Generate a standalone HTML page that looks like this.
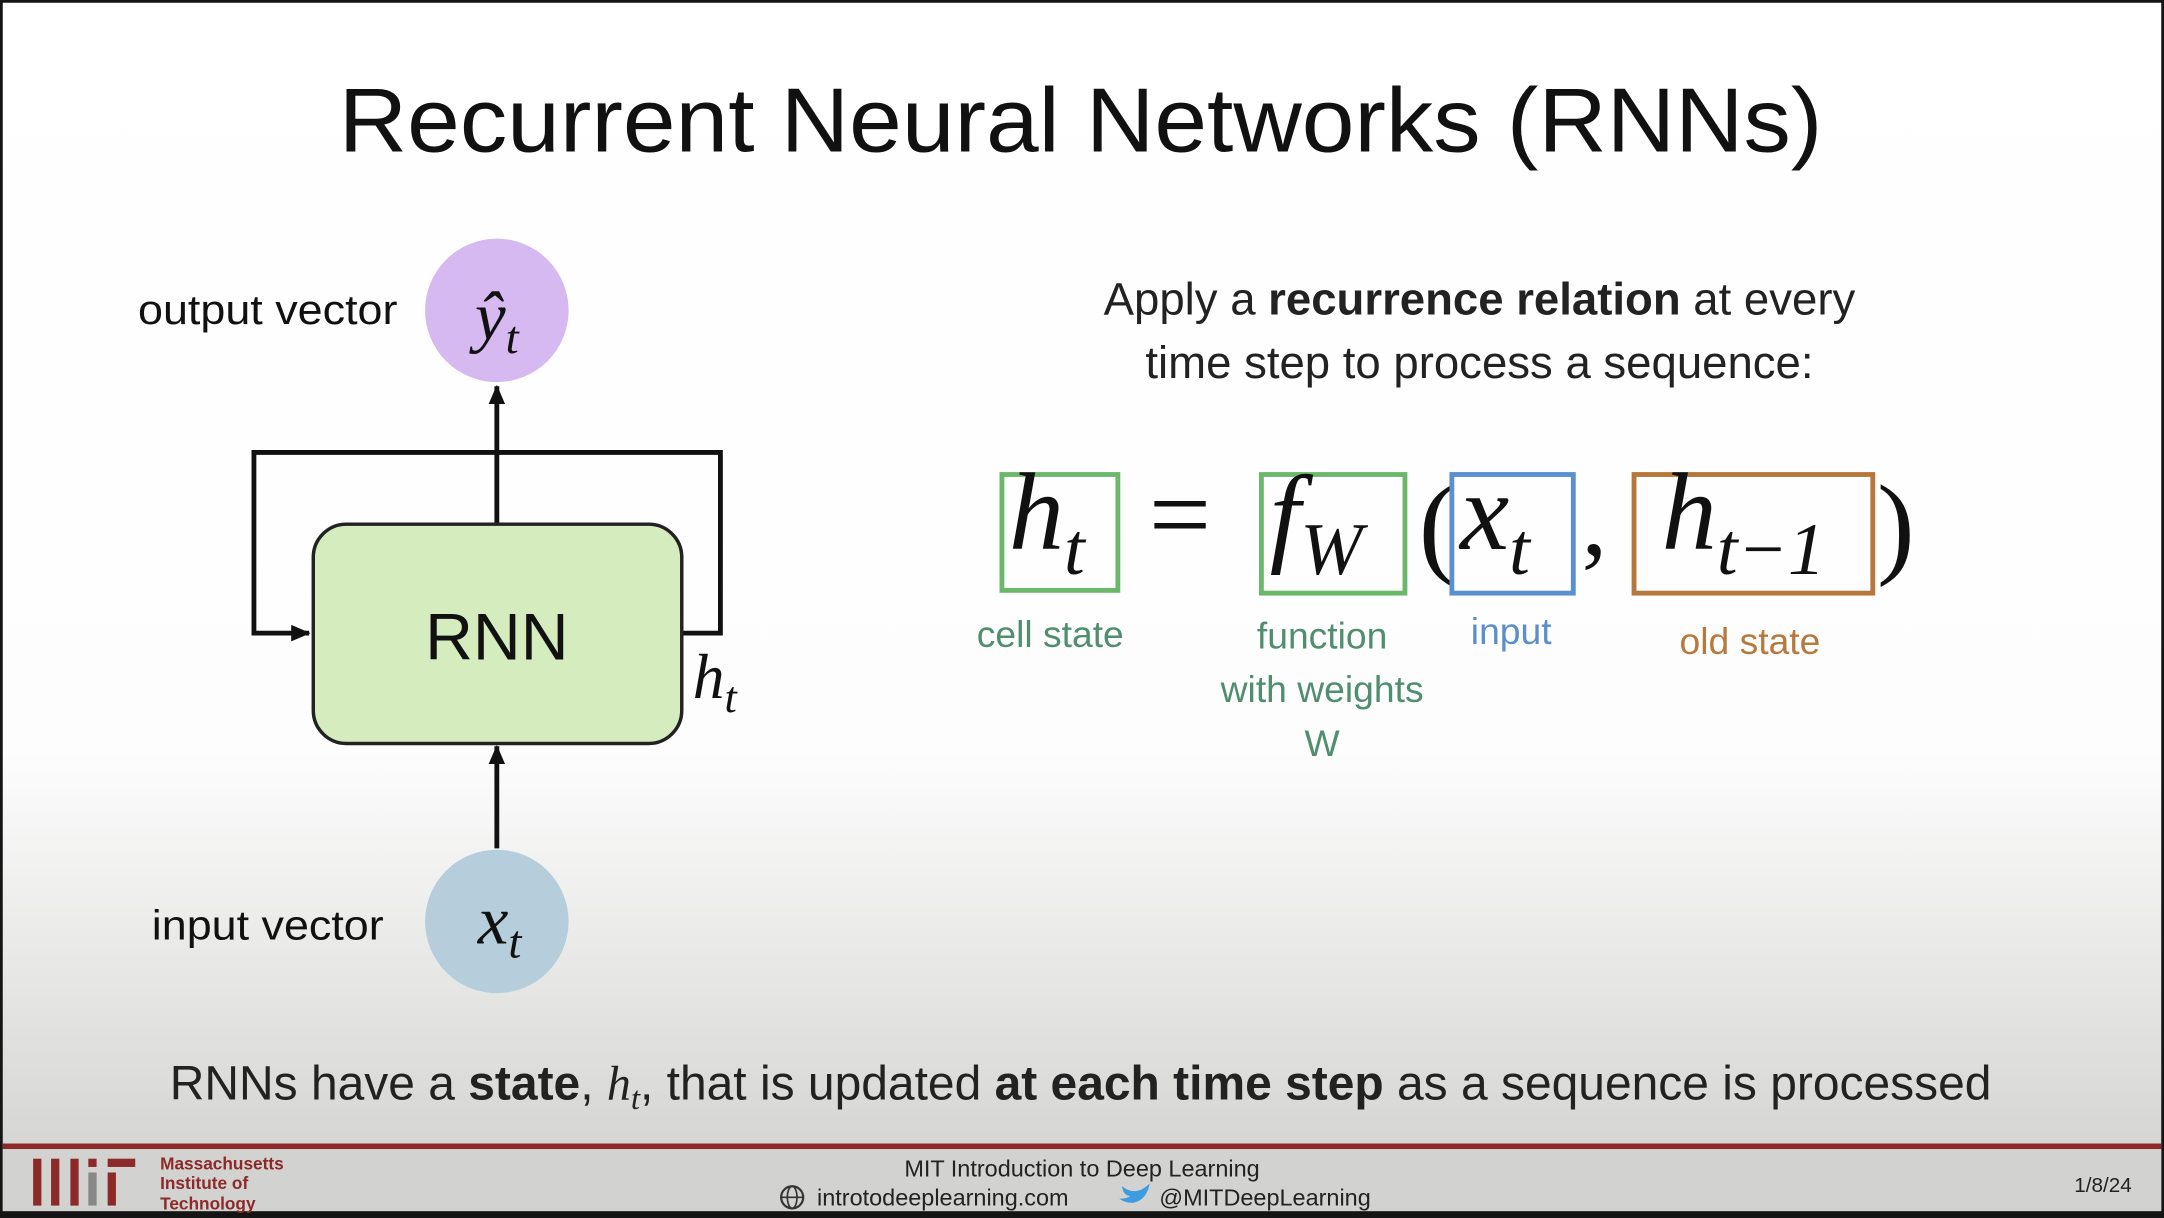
<!DOCTYPE html>
<html><head><meta charset="utf-8"><style>
html,body{margin:0;padding:0;background:#111;}
svg{display:block}
</style></head><body>
<svg width="2164" height="1218" viewBox="0 0 1568 883" preserveAspectRatio="none" xmlns="http://www.w3.org/2000/svg" font-family="'Liberation Sans', sans-serif">
<defs>
<linearGradient id="bg" x1="0" y1="0" x2="0" y2="1">
<stop offset="0" stop-color="#ffffff"/>
<stop offset="0.62" stop-color="#fdfdfd"/>
<stop offset="1" stop-color="#cfcfcd"/>
</linearGradient>
<marker id="ar" markerWidth="14" markerHeight="12" refX="13" refY="6" orient="auto" markerUnits="userSpaceOnUse">
<path d="M0,0 L14,6 L0,12 z" fill="#111"/>
</marker>
</defs>
<rect x="0" y="0" width="1568" height="883" fill="#151515"/>
<rect x="2" y="2" width="1564" height="876" fill="url(#bg)"/>
<rect x="2" y="833" width="1564" height="45" fill="#d2d2d0"/>
<rect x="2" y="829" width="1564" height="4" fill="#8c2a2a"/>

<text x="783" y="110" font-size="66" text-anchor="middle" textLength="1075" lengthAdjust="spacingAndGlyphs" fill="#111">Recurrent Neural Networks (RNNs)</text>

<circle cx="360" cy="225" r="52" fill="#d5b9f0"/>
<text x="360" y="246" font-family="'Liberation Serif',serif" font-style="italic" font-size="50" text-anchor="middle" fill="#111">ŷ<tspan font-size="34" dy="10">t</tspan></text>
<circle cx="360" cy="668" r="52" fill="#b6cedb"/>
<text x="362" y="684" font-family="'Liberation Serif',serif" font-style="italic" font-size="50" text-anchor="middle" fill="#111">x<tspan font-size="34" dy="10">t</tspan></text>
<text x="100" y="235" font-size="30" textLength="188" lengthAdjust="spacingAndGlyphs" fill="#111">output vector</text>
<text x="110" y="681" font-size="30" textLength="168" lengthAdjust="spacingAndGlyphs" fill="#111">input vector</text>

<path d="M494,459 H522 V328 H184 V459 H224" fill="none" stroke="#111" stroke-width="3.5" marker-end="url(#ar)"/>
<line x1="360" y1="380" x2="360" y2="280" stroke="#111" stroke-width="3.5" marker-end="url(#ar)"/>
<line x1="360" y1="615" x2="360" y2="541" stroke="#111" stroke-width="3.5" marker-end="url(#ar)"/>
<rect x="227" y="380" width="267" height="159" rx="24" fill="#d4ecbe" stroke="#222" stroke-width="2.5"/>
<text x="360" y="478" font-size="48" text-anchor="middle" fill="#111">RNN</text>
<text x="502" y="506" font-family="'Liberation Serif',serif" font-style="italic" font-size="46" fill="#111">h<tspan font-size="32" dy="10">t</tspan></text>

<text x="1072" y="228" font-size="33" text-anchor="middle" fill="#222">Apply a <tspan font-weight="bold">recurrence relation</tspan> at every</text>
<text x="1072" y="274" font-size="33" text-anchor="middle" fill="#222">time step to process a sequence:</text>

<g font-family="'Liberation Serif',serif" font-style="italic" fill="#111">
<rect x="726" y="344" width="84" height="84" fill="none" stroke="#6bb86b" stroke-width="3.5"/>
<text x="731" y="398" font-size="80">h<tspan font-size="54" dy="18">t</tspan></text>
<text x="855" y="400" font-style="normal" font-size="80" text-anchor="middle">=</text>
<rect x="914" y="344" width="104" height="86" fill="none" stroke="#6bb86b" stroke-width="3.5"/>
<text x="920" y="400" font-size="80">f<tspan font-size="54" dy="16">W</tspan></text>
<text x="1028" y="408" font-style="normal" font-size="82">(</text>
<rect x="1052" y="344" width="88" height="86" fill="none" stroke="#5a8fd0" stroke-width="3.5"/>
<text x="1058" y="398" font-size="80">x<tspan font-size="54" dy="18">t</tspan></text>
<text x="1146" y="402" font-style="normal" font-size="74">,</text>
<rect x="1184" y="344" width="173" height="86" fill="none" stroke="#b7763a" stroke-width="3.5"/>
<text x="1204" y="398" font-size="80">h<tspan font-size="54" dy="18">t−1</tspan></text>
<text x="1360" y="408" font-style="normal" font-size="82">)</text>
</g>
<g font-size="27" text-anchor="middle">
<text x="761" y="469" fill="#4f8e6e">cell state</text>
<text x="958" y="470" fill="#4f8e6e">function</text>
<text x="958" y="509" fill="#4f8e6e">with weights</text>
<text x="958" y="548" fill="#4f8e6e">W</text>
<text x="1095" y="467" fill="#5b8fca">input</text>
<text x="1268" y="474" fill="#b67a3e">old state</text>
</g>

<text x="783" y="797" font-size="35" text-anchor="middle" textLength="1320" lengthAdjust="spacingAndGlyphs" fill="#222">RNNs have a <tspan font-weight="bold">state</tspan>, <tspan font-family="'Liberation Serif',serif" font-style="italic">h<tspan font-size="24" dy="7">t</tspan></tspan><tspan dy="-7">, that is updated </tspan><tspan font-weight="bold">at each time step</tspan> as a sequence is processed</text>

<g fill="#8c2a2a">
<rect x="24" y="840" width="6" height="34"/>
<rect x="37" y="840" width="6" height="34"/>
<rect x="51" y="840" width="6" height="34"/>
<rect x="64" y="840" width="6" height="6"/>
<rect x="78" y="840" width="20" height="6"/>
<rect x="78" y="850" width="6" height="24"/>
</g>
<rect x="64" y="850" width="6" height="24" fill="#888"/>
<g font-size="12.5" font-weight="bold" fill="#8c2a2a">
<text x="116" y="848">Massachusetts</text>
<text x="116" y="862">Institute of</text>
<text x="116" y="877">Technology</text>
</g>
<text x="784" y="853" font-size="17" text-anchor="middle" fill="#222">MIT Introduction to Deep Learning</text>
<circle cx="574" cy="868" r="8" fill="none" stroke="#333" stroke-width="1.6"/>
<line x1="566" y1="868" x2="582" y2="868" stroke="#333" stroke-width="1.2"/>
<ellipse cx="574" cy="868" rx="3.5" ry="8" fill="none" stroke="#333" stroke-width="1.2"/>
<text x="592" y="874" font-size="17" fill="#222">introtodeeplearning.com</text>
<path d="M813,860 q10,8 20,-2 q-2,12 -12,14 q-6,0 -10,-3 q6,0 8,-2 q-5,0 -6,-7z" fill="#3d9be0"/>
<text x="840" y="874" font-size="17" fill="#222">@MITDeepLearning</text>
<text x="1503" y="864" font-size="15" fill="#222">1/8/24</text>
</svg>
</body></html>
